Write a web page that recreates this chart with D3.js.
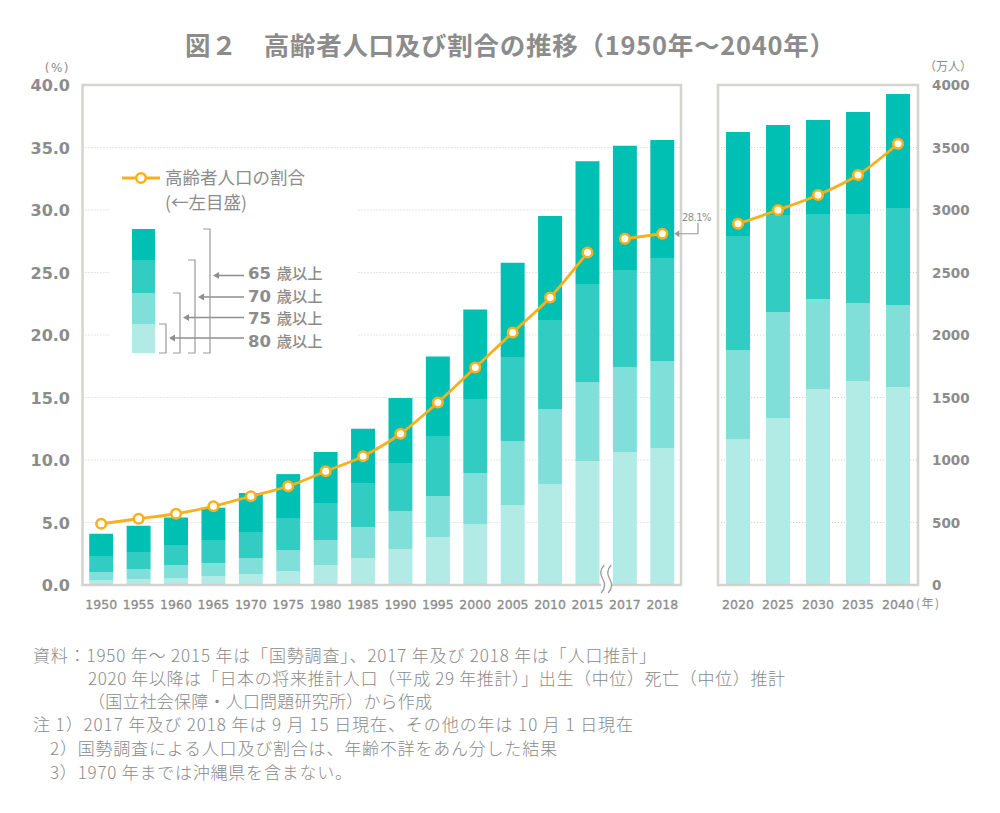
<!DOCTYPE html>
<html><head><meta charset="utf-8">
<script src="https://cdn.jsdelivr.net/npm/d3@7"></script>
<style>body{margin:0;background:#fff}#wrap{position:relative;width:1000px;height:813px}svg{display:block}
.note{position:absolute;white-space:nowrap;font-family:'Noto Sans CJK JP','Noto Sans CJK SC',sans-serif;font-weight:300;font-size:17px;line-height:20px;color:#8a8a8a}</style>
</head><body>
<div id="wrap"><svg id="c" width="1000" height="813"></svg></div>
<script>
// ---------- data ----------
const years1 = ["1950","1955","1960","1965","1970","1975","1980","1985","1990","1995","2000","2005","2010","2015","2017","2018"];
const years2 = ["2020","2025","2030","2035","2040"];
// population (10,000 persons) aged 65+, 70+, 75+, 80+
const pop65a = [410,474,540,618,736,887,1064,1250,1496,1828,2204,2578,2952,3390,3514,3560];
const pop70a = [232,264,320,360,424,536,656,816,976,1192,1488,1824,2120,2408,2520,2616];
const pop75a = [104,128,160,176,216,280,360,464,592,712,896,1152,1408,1624,1744,1792];
const pop80a = [40,44,56,72,88,112,160,216,288,384,488,640,808,992,1064,1096];
const pop65b = [3624,3680,3720,3784,3928];
const pop70b = [2792,2960,2968,2968,3016];
const pop75b = [1880,2184,2288,2256,2240];
const pop80b = [1168,1336,1568,1632,1584];
// share of elderly (%)
const shareA = [4.9,5.3,5.7,6.3,7.1,7.9,9.1,10.3,12.1,14.6,17.4,20.2,23.0,26.6,27.7,28.1];
const shareB = [28.9,30.0,31.2,32.8,35.3];
const leftTicks = [0,5,10,15,20,25,30,35,40];
const rightTicks = [0,500,1000,1500,2000,2500,3000,3500,4000];
const ageKeys = ["a80","a75","a70","a65"];
const ageLabels = ["80 歳以上","75 歳以上","70 歳以上","65 歳以上"];
const titleText = "図２　高齢者人口及び割合の推移（1950年～2040年）";
const legendLine1 = "高齢者人口の割合";
const legendLine2 = "(←左目盛)";
const notes = [
  "資料：1950 年～ 2015 年は「国勢調査」、2017 年及び 2018 年は「人口推計」",
  "2020 年以降は「日本の将来推計人口（平成 29 年推計）」出生（中位）死亡（中位）推計",
  "（国立社会保障・人口問題研究所）から作成",
  "注 1）2017 年及び 2018 年は 9 月 15 日現在、その他の年は 10 月 1 日現在",
  "2）国勢調査による人口及び割合は、年齢不詳をあん分した結果",
  "3）1970 年までは沖縄県を含まない。"
];

// ---------- style ----------
const colors = {a65:"#00bfb3", a70:"#33ccc2", a75:"#80dfd8", a80:"#b2ebe6"};
const ORANGE = "#f8b11c";
const GRAY = "#8c8c8c";
const NUM = "'DejaVu Sans', sans-serif";
const JP = "'Noto Sans CJK JP', 'Noto Sans CJK SC', sans-serif";

const svg = d3.select("#c");
const TOP = 85, BOT = 585;
const L = {x0:82.5, x1:681}, R = {x0:718, x1:918};

const yL = d3.scaleLinear().domain([0,40]).range([BOT,TOP]);
const yR = d3.scaleLinear().domain([0,4000]).range([BOT,TOP]);
const x1 = d3.scaleBand().domain(years1).range([L.x0,L.x1]).paddingInner(0.36).paddingOuter(0.18);
const x2 = d3.scaleBand().domain(years2).range([R.x0,R.x1]).paddingInner(0.4).paddingOuter(0.2);

function rows(years,p65,p70,p75,p80){
  return years.map((y,i)=>({year:y, a80:p80[i], a75:p75[i]-p80[i], a70:p70[i]-p75[i], a65:p65[i]-p70[i]}));
}
const stack = d3.stack().keys(ageKeys);
const stA = stack(rows(years1,pop65a,pop70a,pop75a,pop80a));
const stB = stack(rows(years2,pop65b,pop70b,pop75b,pop80b));

// title
svg.append("text").attr("x",185).attr("y",55)
  .attr("font-family",JP).attr("font-weight",700).attr("font-size",25.5).attr("fill",GRAY)
  .attr("textLength",650).attr("lengthAdjust","spacing")
  .text(titleText);

// gridlines
const grid = svg.append("g");
[L,R].forEach(p=>{
  grid.selectAll(null).data(leftTicks.filter(t=>t>0&&t<40)).join("line")
    .attr("x1",p.x0).attr("x2",p.x1).attr("y1",d=>yL(d)).attr("y2",d=>yL(d))
    .attr("stroke","#cfcfcf").attr("stroke-width",1).attr("stroke-dasharray","1,2");
});
// legend background (interrupts gridlines)
svg.append("rect").attr("x",110).attr("y",160).attr("width",248).attr("height",200).attr("fill","#fff");

// bars
function drawBars(st,x){
  svg.append("g").selectAll("g").data(st).join("g").attr("fill",d=>colors[d.key])
    .selectAll("rect").data(d=>d).join("rect")
    .attr("x",d=>x(d.data.year)).attr("width",x.bandwidth())
    .attr("y",d=>yR(d[1])).attr("height",d=>yR(d[0])-yR(d[1]));
}
drawBars(stA,x1); drawBars(stB,x2);

// frames
[L,R].forEach(p=>{
  svg.append("rect").attr("x",p.x0).attr("y",TOP).attr("width",p.x1-p.x0).attr("height",BOT-TOP)
    .attr("fill","none").attr("stroke","#cfcfca").attr("stroke-opacity",0.9).attr("stroke-width",2.5);
});

// break mark between 2015 and 2017
const bx = (x1("2015")+x1.bandwidth()+x1("2017"))/2;
svg.append("rect").attr("x",bx-5).attr("y",578).attr("width",10).attr("height",14).attr("fill","#fff");
[-3.5,3.5].forEach(o=>{
  const cx = bx+o;
  svg.append("path").attr("d",`M${cx+1.5},565 C${cx-3},570 ${cx-3},574 ${cx},579 C${cx+3},584 ${cx+3},588 ${cx-1.5},593`)
    .attr("fill","none").attr("stroke","#9a9a9a").attr("stroke-width",1.3);
});

// line series
const line = d3.line().curve(d3.curveMonotoneX).x(d=>d.x).y(d=>yL(d.v));
const segs = [
  years1.slice(0,14).map((y,i)=>({x:x1(y)+x1.bandwidth()/2, v:shareA[i]})),
  years1.slice(14).map((y,i)=>({x:x1(y)+x1.bandwidth()/2, v:shareA[i+14]})),
  years2.map((y,i)=>({x:x2(y)+x2.bandwidth()/2, v:shareB[i]}))
];
segs.forEach(s=>{
  svg.append("path").datum(s).attr("d",line).attr("fill","none").attr("stroke",ORANGE).attr("stroke-width",2.8);
});
svg.append("g").selectAll("circle").data(segs.flat()).join("circle")
  .attr("cx",d=>d.x).attr("cy",d=>yL(d.v)).attr("r",4.8)
  .attr("fill","#fff").attr("stroke",ORANGE).attr("stroke-width",2.6);

// axes
const axL = svg.append("g").attr("transform","translate(70,0)")
  .call(d3.axisLeft(yL).tickValues(leftTicks).tickFormat(d3.format(".1f")).tickSize(0).tickPadding(0));
axL.select(".domain").remove();
axL.selectAll("text").attr("font-family",NUM).attr("font-weight",700).attr("font-size",16).attr("fill",GRAY).attr("dy","0.36em");

const axR = svg.append("g").attr("transform","translate(932,0)")
  .call(d3.axisRight(yR).tickValues(rightTicks).tickFormat(d3.format("d")).tickSize(0).tickPadding(0));
axR.select(".domain").remove();
axR.selectAll("text").attr("font-family",NUM).attr("font-weight",700).attr("font-size",13.5).attr("fill",GRAY).attr("dy","0.36em");

[[x1],[x2]].forEach(([x])=>{
  const ax = svg.append("g").attr("transform","translate(0,604)")
    .call(d3.axisBottom(x).tickSize(0).tickPadding(0));
  ax.select(".domain").remove();
  ax.selectAll("text").attr("y",0).attr("dy","0.36em").attr("font-family",NUM).attr("font-size",12.5).attr("fill",GRAY).attr("stroke",GRAY).attr("stroke-width",0.3);
});
svg.append("text").attr("x",916).attr("y",604).attr("dy","0.36em").attr("font-family",JP).attr("font-size",12).attr("letter-spacing",1.5).attr("fill",GRAY).text("(年)");
svg.append("text").attr("x",70).attr("y",68).attr("dy","0.36em").attr("text-anchor","end").attr("font-family",NUM).attr("font-size",12).attr("fill",GRAY).attr("letter-spacing",1.5).text("(%)");
svg.append("text").attr("x",924).attr("y",67).attr("dy","0.36em").attr("font-family",JP).attr("font-size",12).attr("fill",GRAY).text("（万人）");

// 28.1% callout
const last = segs[1][1];
svg.append("text").attr("x",682).attr("y",217).attr("dy","0.36em").attr("font-family","'DejaVu Sans Condensed','DejaVu Sans',sans-serif")
  .attr("font-size",11).attr("letter-spacing",-0.5).attr("fill",GRAY).text(shareA[15].toFixed(1)+"%");
const ay = yL(last.v);
svg.append("path").attr("d",`M698,223 V${ay} H${x1("2018")+x1.bandwidth()+4}`).attr("fill","none").attr("stroke","#999").attr("stroke-width",1.2);
svg.append("path").attr("d",`M${x1("2018")+x1.bandwidth()},${ay} l5,-3.5 v7 z`).attr("fill","#999");

// legend
svg.append("line").attr("x1",122).attr("x2",160).attr("y1",178).attr("y2",178).attr("stroke",ORANGE).attr("stroke-width",2.8);
svg.append("circle").attr("cx",141).attr("cy",178).attr("r",4.8).attr("fill","#fff").attr("stroke",ORANGE).attr("stroke-width",2.6);
svg.append("text").attr("x",165).attr("y",178).attr("dy","0.36em").attr("font-family",JP).attr("font-size",17.5).attr("fill",GRAY).text(legendLine1);
svg.append("text").attr("x",165).attr("y",203).attr("dy","0.36em").attr("font-family",JP).attr("font-size",17.5).attr("fill",GRAY).text(legendLine2);

const legBounds = [353,324,293,260,229]; // bottom -> top of legend bar segments
ageKeys.forEach((k,i)=>{
  svg.append("rect").attr("x",132).attr("width",23).attr("y",legBounds[i+1]).attr("height",legBounds[i]-legBounds[i+1]).attr("fill",colors[k]);
});
const brX = [166,180,195,210], arY = [338,317.5,297,275.5], labY = [341.5,319,296.5,274];
ageKeys.forEach((k,i)=>{
  const top = legBounds[i+1], bx = brX[i];
  svg.append("path").attr("d",`M${bx-7},${top} H${bx} V353 H${bx-7}`).attr("fill","none").attr("stroke","#9a9a9a").attr("stroke-width",1.2);
  svg.append("line").attr("x1",bx+8).attr("x2",244).attr("y1",arY[i]).attr("y2",arY[i]).attr("stroke","#8f8f8f").attr("stroke-width",1.6);
  svg.append("path").attr("d",`M${bx+3},${arY[i]} l6,-3.5 v7 z`).attr("fill","#8f8f8f");
  const [num, rest] = ageLabels[i].split(" ");
  const t = svg.append("text").attr("x",248).attr("y",labY[i]).attr("dy","0.36em").attr("fill",GRAY).attr("font-size",15);
  t.append("tspan").attr("font-family",NUM).attr("font-weight",700).attr("font-size",16.5).text(num+" ");
  t.append("tspan").attr("font-family",JP).attr("font-weight",500).attr("font-size",15.3).text(rest);
});

// notes as HTML lines; letter spacing fitted so each line spans the reference width
const noteX = [33,88,88,33,50,50], noteY = [655,678,701,724,748,772];
const noteW = [623,697,344,600,507,302];
const wrap = d3.select("#wrap");
notes.forEach((n,i)=>{
  const d = wrap.append("div").attr("class","note")
    .style("left",noteX[i]+"px").style("top",(noteY[i]-10)+"px").text(n);
  const w = d.node().getBoundingClientRect().width;
  const ls = (noteW[i]-w)/Math.max(1,[...n].length-1);
  d.style("letter-spacing", ls.toFixed(3)+"px");
});
</script>
</body></html>
